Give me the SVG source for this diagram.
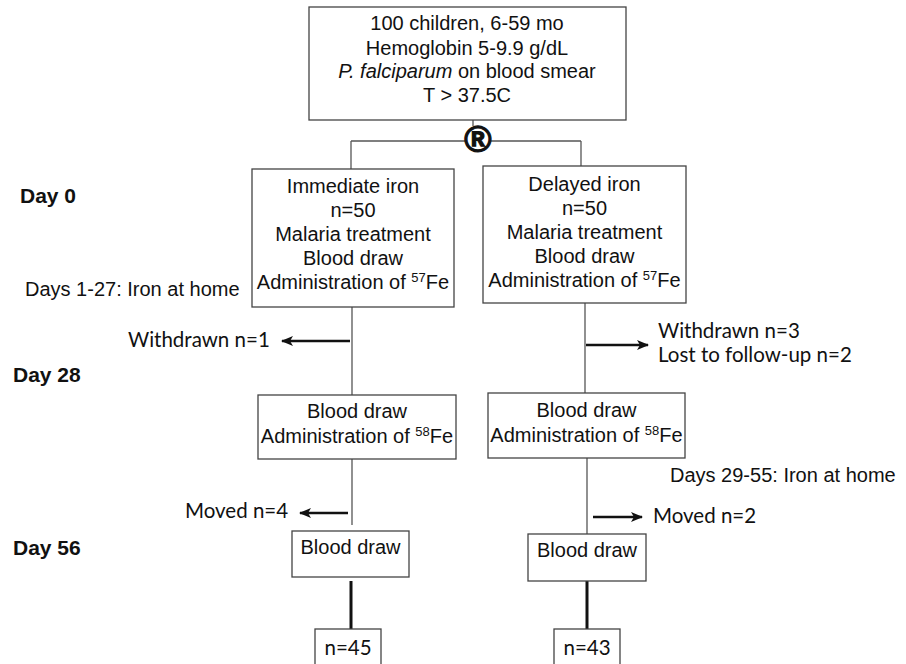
<svg xmlns="http://www.w3.org/2000/svg" width="906" height="664" viewBox="0 0 906 664">
<style>
  text { font-family: "Liberation Sans", Arial, sans-serif; font-size: 20px; fill: #111; }
  .c { text-anchor: middle; }
  .day { font-weight: bold; font-size: 21px; }
  .sup { font-size: 13px; }
  .cal { font-family: Lato, "Open Sans", sans-serif; font-size: 20.5px; }
  .box { fill: #fff; stroke: #444; stroke-width: 1.3; }
  .ln { stroke: #555; stroke-width: 1.3; fill: none; }
  .thick { stroke: #111; stroke-width: 3; fill: none; }
  .arr { stroke: #111; stroke-width: 2.5; fill: none; marker-end: url(#ah); }
</style>
<defs>
  <marker id="ah" viewBox="0 0 12 10" refX="11" refY="5" markerWidth="12" markerHeight="10" markerUnits="userSpaceOnUse" orient="auto">
    <path d="M0,0 L12,5 L0,10 L3,5 Z" fill="#111"/>
  </marker>
</defs>
<rect width="906" height="664" fill="#fff"/>

<g id="connectors">
  <line class="ln" x1="473" y1="120" x2="473" y2="126"/>
  <line class="ln" x1="351" y1="141" x2="465" y2="141"/>
  <line class="ln" x1="491" y1="141" x2="581" y2="141"/>
  <line class="ln" x1="351" y1="141" x2="351" y2="169"/>
  <line class="ln" x1="581" y1="141" x2="581" y2="166"/>
  <line class="ln" x1="352" y1="307" x2="352" y2="395"/>
  <line class="ln" x1="352" y1="459" x2="352" y2="525"/>
  <line class="ln" x1="585" y1="303" x2="585" y2="393"/>
  <line class="ln" x1="587" y1="458" x2="587" y2="534"/>
  <line class="arr" x1="350" y1="341" x2="282" y2="341"/>
  <line class="arr" x1="586" y1="345" x2="648" y2="345"/>
  <line class="arr" x1="348" y1="513" x2="300" y2="513"/>
  <line class="arr" x1="593" y1="517" x2="642" y2="517"/>
  <line class="thick" x1="351" y1="581" x2="351" y2="629"/>
  <line class="thick" x1="587" y1="581" x2="587" y2="629"/>
</g>

<g id="randomization">
  <text class="c" x="478" y="152" style="font-size:37px;font-weight:bold;stroke:#111;stroke-width:1.2">®</text>
</g>

<g id="enrollment">
  <rect class="box" x="309" y="7" width="317" height="113"/>
  <text class="c" x="467" y="30">100 children, 6-59 mo</text>
  <text class="c" x="467" y="55">Hemoglobin 5-9.9 g/dL</text>
  <text class="c" x="467" y="78"><tspan font-style="italic">P. falciparum</tspan> on blood smear</text>
  <text class="c" x="467" y="102">T &gt; 37.5C</text>
</g>

<g id="immediate">
  <rect class="box" x="252" y="169" width="202" height="138"/>
  <text class="c" x="353" y="193">Immediate iron</text>
  <text class="c" x="353" y="217">n=50</text>
  <text class="c" x="353" y="241">Malaria treatment</text>
  <text class="c" x="353" y="265">Blood draw</text>
  <text class="c" x="353" y="289">Administration of <tspan class="sup" dy="-7">57</tspan><tspan dy="7">Fe</tspan></text>
</g>

<g id="delayed">
  <rect class="box" x="483" y="166" width="203" height="137"/>
  <text class="c" x="584.5" y="191">Delayed iron</text>
  <text class="c" x="584.5" y="215">n=50</text>
  <text class="c" x="584.5" y="239">Malaria treatment</text>
  <text class="c" x="584.5" y="263">Blood draw</text>
  <text class="c" x="584.5" y="287">Administration of <tspan class="sup" dy="-7">57</tspan><tspan dy="7">Fe</tspan></text>
</g>

<g id="imm-day28">
  <rect class="box" x="258" y="395" width="198" height="64"/>
  <text class="c" x="357" y="418">Blood draw</text>
  <text class="c" x="357" y="443">Administration of <tspan class="sup" dy="-7">58</tspan><tspan dy="7">Fe</tspan></text>
</g>

<g id="del-day28">
  <rect class="box" x="488" y="393" width="197" height="65"/>
  <text class="c" x="586.5" y="417">Blood draw</text>
  <text class="c" x="586.5" y="442">Administration of <tspan class="sup" dy="-7">58</tspan><tspan dy="7">Fe</tspan></text>
</g>

<g id="imm-day56">
  <rect class="box" x="292" y="531" width="117" height="46"/>
  <text class="c" x="350.5" y="554">Blood draw</text>
</g>

<g id="del-day56">
  <rect class="box" x="528" y="534" width="118" height="47"/>
  <text class="c" x="587" y="557">Blood draw</text>
</g>

<g id="imm-final">
  <rect class="box" x="315" y="629" width="66" height="45"/>
  <text class="c cal" x="348" y="655">n=45</text>
</g>

<g id="del-final">
  <rect class="box" x="554" y="629" width="66" height="45"/>
  <text class="c cal" x="587" y="655">n=43</text>
</g>

<g id="labels">
  <text class="day" x="20" y="203">Day 0</text>
  <text class="day" x="13" y="382">Day 28</text>
  <text class="day" x="13" y="555">Day 56</text>
  <text x="25" y="296">Days 1-27: Iron at home</text>
  <text class="cal" x="128" y="347">Withdrawn n=1</text>
  <text class="cal" x="658" y="338">Withdrawn n=3</text>
  <text class="cal" x="658" y="362">Lost to follow-up n=2</text>
  <text x="670" y="482">Days 29-55: Iron at home</text>
  <text class="cal" x="185" y="518">Moved n=4</text>
  <text class="cal" x="653" y="523">Moved n=2</text>
</g>
</svg>
